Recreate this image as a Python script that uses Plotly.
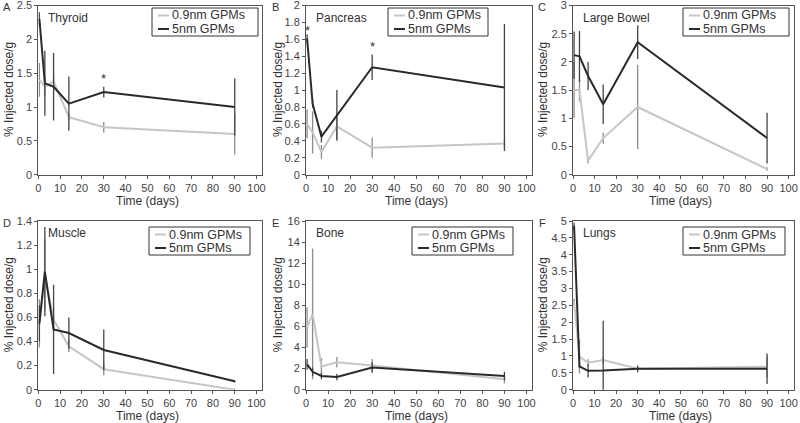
import plotly.graph_objects as go

# ---------------- data ----------------
days = [0.5, 3, 7, 14, 30, 90]

panel_letters = ["A", "B", "C", "D", "E", "F"]
organs = ["Thyroid", "Pancreas", "Large Bowel", "Muscle", "Bone", "Lungs"]
series_names = ["0.9nm GPMs", "5nm GPMs"]
x_title = "Time (days)"
y_title = "% Injected dose/g"

thyroid_small = [1.40, 1.30, 1.38, 0.85, 0.70, 0.60]
thyroid_small_err = [0.25, 0.15, 0.10, 0.05, 0.08, 0.30]
thyroid_large = [2.30, 1.35, 1.30, 1.05, 1.22, 1.00]
thyroid_large_err = [0.10, 0.48, 0.50, 0.40, 0.08, 0.42]

pancreas_small = [0.60, 0.50, 0.27, 0.57, 0.32, 0.37]
pancreas_small_err = [0.17, 0.25, 0.08, 0.15, 0.12, 0.05]
pancreas_large = [1.61, 0.84, 0.45, 0.70, 1.27, 1.03]
pancreas_large_err = [0.05, 0.05, 0.07, 0.30, 0.15, 0.75]

bowel_small = [1.50, 1.50, 0.25, 0.65, 1.20, 0.10]
bowel_small_err = [0.50, 0.20, 0.05, 0.10, 0.75, 0.03]
bowel_large = [2.12, 2.10, 1.75, 1.25, 2.35, 0.65]
bowel_large_err = [0.42, 0.45, 0.25, 0.35, 0.30, 0.45]

muscle_small = [0.55, 0.95, 0.58, 0.36, 0.17, 0.00]
muscle_small_err = [0.20, 0.30, 0.10, 0.05, 0.05, 0.01]
muscle_large = [0.55, 0.98, 0.50, 0.47, 0.33, 0.07]
muscle_large_err = [0.15, 0.37, 0.37, 0.13, 0.17, 0.01]

bone_small = [5.9, 7.2, 2.2, 2.6, 2.3, 1.0]
bone_small_err = [1.9, 6.2, 0.8, 0.5, 0.6, 0.4]
bone_large = [2.4, 1.7, 1.3, 1.2, 2.1, 1.3]
bone_large_err = [0.5, 0.4, 0.3, 0.3, 0.5, 0.4]

lungs_small = [2.6, 0.98, 0.80, 0.88, 0.62, 0.68]
lungs_small_err = [0.1, 0.5, 0.10, 0.10, 0.05, 0.30]
lungs_large = [4.85, 0.69, 0.56, 0.57, 0.62, 0.62]
lungs_large_err = [0.1, 0.05, 0.20, 1.47, 0.10, 0.45]

y_ranges = [[0, 2.5], [0, 2], [0, 3], [0, 1.4], [0, 16], [0, 5]]
y_dticks = [0.5, 0.2, 0.5, 0.2, 2, 0.5]
x_ticks = [0, 10, 20, 30, 40, 50, 60, 70, 80, 90, 100]
x_range = [0, 102.5]

# asterisks: (panel index, day, value)
asterisks = [(0, 30, 1.42), (1, 0.5, 1.70), (1, 30, 1.52)]

small_vals = [thyroid_small, pancreas_small, bowel_small, muscle_small, bone_small, lungs_small]
small_errs = [thyroid_small_err, pancreas_small_err, bowel_small_err, muscle_small_err, bone_small_err, lungs_small_err]
large_vals = [thyroid_large, pancreas_large, bowel_large, muscle_large, bone_large, lungs_large]
large_errs = [thyroid_large_err, pancreas_large_err, bowel_large_err, muscle_large_err, bone_large_err, lungs_large_err]

# ---------------- layout geometry (pixels) ----------------
W, H = 800, 423
col_px = [(38.3, 262), (306, 532), (573, 794)]
row_px = [(5.5, 174.7), (221, 389.7)]
legend_boxes = [(152, 8, 258, 36), (388, 8, 488, 36), (683, 8, 789, 36),
                (149, 227, 250, 255), (412, 227, 513, 255), (683, 227, 785, 255)]
ytitle_x = [9, 278, 543]

FONT = "Liberation Sans, Arial, sans-serif"
TXT = "#333333"
GRAY_LINE = "#c6c6c6"
GRAY_ERR = "#8c8c8c"
DARK_LINE = "#2a2a2a"
DARK_ERR = "#444444"


def px(x):
    return x / W


def py(y):
    return 1 - y / H


fig = go.Figure()
annotations = []
shapes = []
layout = dict(
    width=W, height=H, margin=dict(l=0, r=0, t=0, b=0, autoexpand=False),
    paper_bgcolor="white", plot_bgcolor="white", showlegend=False,
    font=dict(family=FONT, size=11, color=TXT),
)

for i in range(6):
    r, c = divmod(i, 3)
    x0, x1 = col_px[c]
    y0, y1 = row_px[r]
    n = "" if i == 0 else str(i + 1)
    xa, ya = "x" + n, "y" + n

    fig.add_trace(go.Scatter(
        x=days, y=small_vals[i], mode="lines", name=series_names[0],
        line=dict(color=GRAY_LINE, width=2),
        error_y=dict(type="data", array=small_errs[i], color=GRAY_ERR, thickness=1.3, width=0),
        xaxis=xa, yaxis=ya,
    ))
    fig.add_trace(go.Scatter(
        x=days, y=large_vals[i], mode="lines", name=series_names[1],
        line=dict(color=DARK_LINE, width=2),
        error_y=dict(type="data", array=large_errs[i], color=DARK_ERR, thickness=1.3, width=0),
        xaxis=xa, yaxis=ya,
    ))

    nt = int(round(y_ranges[i][1] / y_dticks[i]))
    yvals = [round(k * y_dticks[i], 6) for k in range(nt + 1)]
    ytext = [("%g" % v) for v in yvals]

    common = dict(showline=True, linecolor="#555", linewidth=1, mirror=True,
                  ticks="outside", ticklen=3, tickcolor="#555", showgrid=False,
                  zeroline=False, automargin=False, ticklabeloverflow="allow",
                  tickfont=dict(size=11, family=FONT, color="#444"))
    layout["xaxis" + n] = dict(domain=[px(x0), px(x1)], anchor=ya, range=x_range,
                               tickvals=x_ticks, **common)
    layout["yaxis" + n] = dict(domain=[py(y1), py(y0)], anchor=xa, range=y_ranges[i],
                               tickvals=yvals, ticktext=ytext, **common)

    # axis titles
    annotations.append(dict(text=x_title, x=px((x0 + x0 + (x1 - x0) * 100 / x_range[1]) / 2),
                            y=py(y1 + 26), xref="paper", yref="paper",
                            xanchor="center", yanchor="middle", showarrow=False,
                            font=dict(size=12, family=FONT, color=TXT)))
    annotations.append(dict(text=y_title, x=px(ytitle_x[c]), y=py((y0 + y1) / 2),
                            xref="paper", yref="paper", textangle=-90,
                            xanchor="center", yanchor="middle", showarrow=False,
                            font=dict(size=12, family=FONT, color=TXT)))
    # organ label
    annotations.append(dict(text=organs[i], x=px(x0 + 8), y=py(y0 + 12),
                            xref="paper", yref="paper", xanchor="left", yanchor="middle",
                            showarrow=False, font=dict(size=12, family=FONT, color=TXT)))
    # panel letter
    annotations.append(dict(text=panel_letters[i], x=px(x0 - 31), y=py(y0 + 2),
                            xref="paper", yref="paper", xanchor="center", yanchor="middle",
                            showarrow=False, font=dict(size=11, family=FONT, color=TXT)))

    # legend (box, samples, labels)
    bl, bt, br, bb = legend_boxes[i]
    shapes.append(dict(type="rect", xref="paper", yref="paper",
                       x0=px(bl), x1=px(br), y0=py(bb), y1=py(bt),
                       line=dict(color="#333", width=1), fillcolor="white", layer="above"))
    for k, (nm, col) in enumerate([(series_names[0], GRAY_LINE), (series_names[1], DARK_LINE)]):
        yy = bt + 7.5 + k * 13.5
        shapes.append(dict(type="line", xref="paper", yref="paper",
                           x0=px(bl + 6), x1=px(bl + 17), y0=py(yy), y1=py(yy),
                           line=dict(color=col, width=2), layer="above"))
        annotations.append(dict(text=nm, x=px(bl + 19), y=py(yy), xref="paper", yref="paper",
                                xanchor="left", yanchor="middle", showarrow=False,
                                borderpad=0, font=dict(size=12.5, family=FONT, color=TXT)))

for (pi, d, v) in asterisks:
    n = "" if pi == 0 else str(pi + 1)
    annotations.append(dict(text="*", x=d, y=v, xref="x" + n, yref="y" + n, showarrow=False,
                            font=dict(size=13, family=FONT, color=TXT)))

layout["annotations"] = annotations
layout["shapes"] = shapes
fig.update_layout(**layout)
fig.write_html("out.html", config={"displayModeBar": False, "staticPlot": True})

# remove the default page margin so the figure sits at the window's top-left corner
with open("out.html", "r", encoding="utf-8") as f:
    html = f.read()
html = html.replace("<head>", "<head><style>html,body{margin:0;padding:0;overflow:hidden;}</style>", 1)
with open("out.html", "w", encoding="utf-8") as f:
    f.write(html)
